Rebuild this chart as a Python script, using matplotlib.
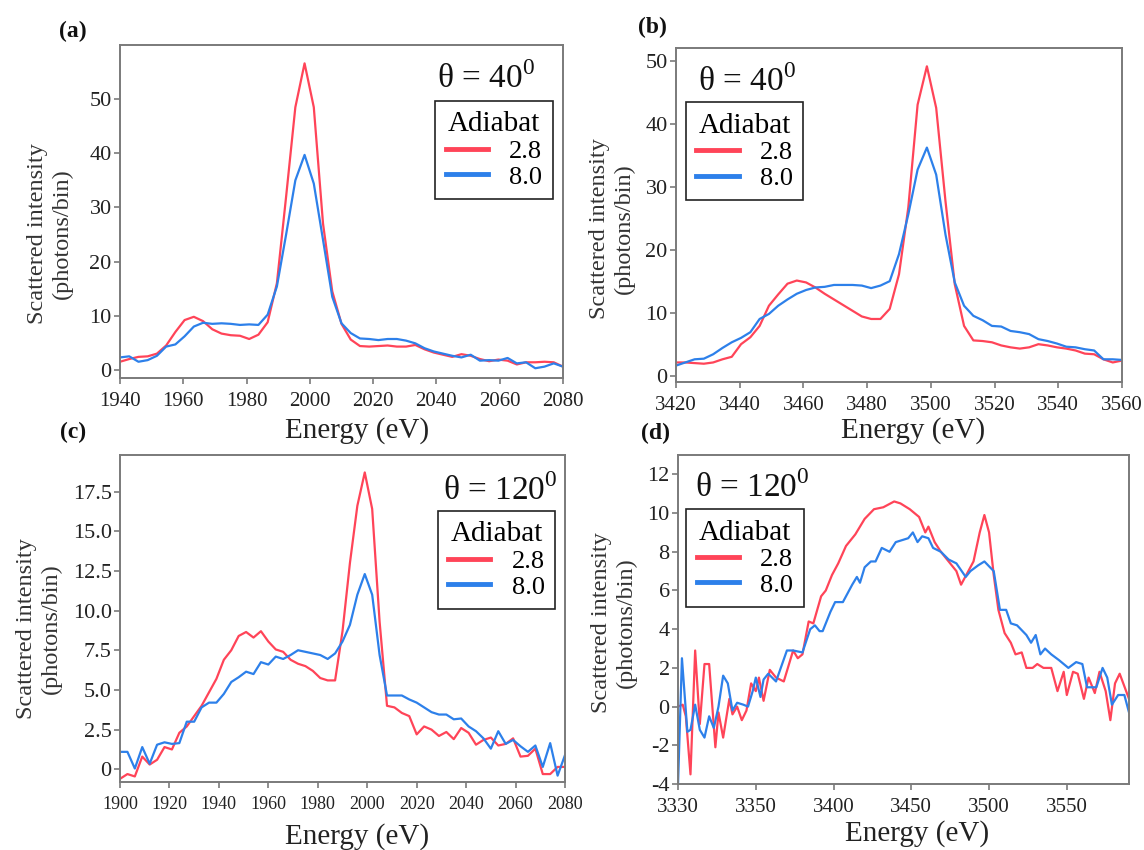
import numpy as np
import matplotlib
matplotlib.use("Agg")
import matplotlib.pyplot as plt

plt.rcParams["font.family"] = ["Liberation Serif", "DejaVu Serif"]
plt.rcParams["mathtext.fontset"] = "custom"
plt.rcParams["mathtext.rm"] = "Liberation Serif"
plt.rcParams["axes.unicode_minus"] = False

RED = "#ff4458"
BLUE = "#2d80ea"
SERIES = ["2.8", "8.0"]

# (a) theta = 40, low energy
e_a = np.linspace(1940, 2080, 49)
a_red = [1.5, 2.0, 2.4, 2.5, 3.0, 4.5, 7.0, 9.2, 9.8, 9.0, 7.5, 6.7, 6.4, 6.3, 5.7, 6.5,
         8.8, 16.0, 32.0, 48.5, 56.6, 48.5, 27.0, 14.5, 8.5, 5.6, 4.4, 4.3, 4.4, 4.5, 4.3,
         4.3, 4.6, 3.8, 3.2, 2.8, 2.4, 2.9, 2.6, 2.0, 1.6, 1.9, 1.7, 1.0, 1.4, 1.4, 1.5,
         1.4, 0.6]
a_blue = [2.3, 2.5, 1.5, 1.8, 2.6, 4.3, 4.7, 6.2, 8.0, 8.7, 8.5, 8.6, 8.5, 8.3, 8.4, 8.3,
          10.2, 15.4, 25.0, 35.0, 39.7, 34.4, 24.0, 13.5, 8.6, 6.8, 5.8, 5.7, 5.5, 5.7, 5.7,
          5.4, 4.9, 4.0, 3.4, 3.0, 2.6, 2.3, 2.8, 1.7, 1.8, 1.7, 2.2, 1.2, 1.4, 0.3, 0.6,
          1.2, 0.6]

# (b) theta = 40, high energy
e_b = np.linspace(3420, 3560, 49)
b_red = [2.1, 2.1, 2.0, 1.9, 2.1, 2.6, 3.0, 5.0, 6.1, 7.9, 11.1, 12.9, 14.6, 15.1, 14.8,
         14.0, 13.0, 12.1, 11.2, 10.3, 9.4, 9.0, 9.0, 10.6, 16.1, 26.7, 43.0, 49.1, 42.5,
         27.7, 14.5, 7.9, 5.6, 5.5, 5.3, 4.8, 4.5, 4.3, 4.5, 5.0, 4.8, 4.5, 4.3, 4.0, 3.5,
         3.4, 2.6, 2.1, 2.4]
b_blue = [1.6, 2.1, 2.6, 2.7, 3.4, 4.4, 5.3, 6.0, 6.9, 9.0, 9.8, 11.1, 12.1, 13.0, 13.6,
          14.0, 14.1, 14.4, 14.4, 14.4, 14.3, 13.9, 14.3, 15.0, 19.3, 25.6, 32.7, 36.2,
          31.9, 22.4, 14.8, 11.1, 9.5, 8.8, 7.9, 7.8, 7.1, 6.9, 6.6, 5.8, 5.5, 5.1, 4.6,
          4.5, 4.2, 4.0, 2.6, 2.6, 2.5]

# (c) theta = 120, low energy
e_c = np.arange(1900, 2081, 3)
c_red = [-0.6, -0.3, -0.45, 0.8, 0.3, 0.6, 1.4, 1.25, 2.3, 2.7, 3.35, 4.0, 4.85, 5.7, 6.9,
         7.5, 8.4, 8.65, 8.3, 8.7, 8.05, 7.55, 7.4, 6.9, 6.65, 6.5, 6.2, 5.75, 5.6, 5.6,
         8.7, 13.0, 16.6, 18.7, 16.4, 9.3, 4.0, 3.9, 3.55, 3.35, 2.2, 2.7, 2.5, 2.1, 2.35,
         1.9, 2.6, 2.3, 1.55, 1.85, 2.0, 1.5, 1.6, 1.95, 0.8, 0.85, 1.3, -0.3, -0.3, 0.15,
         0.15]
c_blue = [1.1, 1.1, 0.05, 1.4, 0.35, 1.55, 1.7, 1.6, 1.65, 3.0, 3.0, 3.9, 4.2, 4.2, 4.75,
          5.5, 5.8, 6.15, 6.0, 6.75, 6.6, 7.1, 6.95, 7.2, 7.5, 7.4, 7.3, 7.2, 6.95, 7.3,
          8.05, 9.1, 11.0, 12.3, 11.0, 7.2, 4.65, 4.65, 4.65, 4.4, 4.2, 3.9, 3.6, 3.45,
          3.45, 3.15, 3.2, 2.7, 2.4, 1.95, 1.3, 2.4, 1.6, 1.85, 1.45, 1.1, 1.5, 0.15, 1.65,
          -0.4, 0.9]

# (d) theta = 120, high energy
e_d_red = [3300, 3303, 3305, 3308, 3311, 3314, 3317, 3320, 3324, 3326, 3329, 3333, 3335,
           3338, 3341, 3344, 3347, 3350, 3352, 3355, 3359, 3363, 3368, 3374, 3377, 3380,
           3384, 3387, 3392, 3395, 3399, 3403, 3408, 3414, 3420, 3426, 3432, 3439, 3443,
           3449, 3455, 3459, 3461, 3465, 3469, 3474, 3479, 3482, 3486, 3490, 3494, 3497,
           3500, 3503, 3506, 3510, 3514, 3517, 3521, 3524, 3528, 3531, 3535, 3540, 3544,
           3548, 3550, 3554, 3557, 3561, 3564, 3568, 3571, 3575, 3578, 3581, 3584, 3590]
d_red = [0.0, 0.1, -0.5, -3.5, 2.9, -0.9, 2.2, 2.2, -2.1, -0.3, -1.6, 0.4, -0.4, 0.0, -0.7,
         -0.2, 1.2, 0.8, 1.5, 0.3, 1.9, 1.5, 1.3, 2.9, 2.5, 2.7, 4.4, 4.3, 5.7, 6.0, 6.8,
         7.4, 8.3, 8.9, 9.7, 10.2, 10.3, 10.6, 10.5, 10.2, 9.8, 9.0, 9.3, 8.5, 8.0, 7.5,
         7.0, 6.3, 6.9, 7.5, 9.0, 9.9, 9.0, 6.8, 5.0, 3.8, 3.3, 2.7, 2.8, 2.0, 2.0, 2.2,
         2.0, 2.0, 0.8, 1.8, 0.6, 1.8, 1.7, 0.4, 1.5, 0.7, 1.8, 0.8, -0.7, 1.2, 1.7, 0.4]
e_d_blue = [3300, 3302.5, 3306, 3308, 3311, 3314, 3317, 3320, 3323, 3326, 3329, 3332, 3335,
            3338, 3342, 3345, 3348, 3350, 3353, 3355, 3358, 3363, 3370, 3374, 3380, 3385,
            3388, 3391, 3393, 3398, 3401, 3406, 3412, 3415, 3417, 3420, 3424, 3427, 3431,
            3436, 3440, 3448, 3451, 3454, 3457, 3461, 3464, 3469, 3474, 3479, 3485, 3488,
            3493, 3497, 3503, 3507, 3511, 3514, 3518, 3524, 3527, 3530, 3533, 3536, 3540,
            3545, 3551, 3556, 3560, 3563, 3567, 3569, 3573, 3576, 3579, 3583, 3587, 3590]
d_blue = [-4.0, 2.5, -1.3, -1.2, 0.1, -1.2, -1.6, -0.5, -1.1, 0.0, 1.6, 1.2, -0.2, 0.2, 0.1,
          0.0, 0.8, 1.5, 0.5, 1.4, 1.7, 1.3, 2.9, 2.9, 2.8, 4.0, 4.2, 3.9, 3.9, 4.9, 5.4,
          5.4, 6.3, 6.7, 6.4, 7.2, 7.5, 7.5, 8.2, 8.0, 8.5, 8.7, 9.0, 8.5, 8.8, 8.7, 8.2,
          8.0, 7.6, 7.4, 6.7, 7.0, 7.3, 7.5, 7.0, 5.0, 5.0, 4.3, 4.2, 3.7, 3.3, 3.7, 2.7,
          3.0, 2.7, 2.4, 2.0, 2.3, 2.2, 1.0, 1.0, 1.0, 2.0, 1.5, 0.1, 0.6, 0.6, -0.3]

xt_a = [1940, 1960, 1980, 2000, 2020, 2040, 2060, 2080]
xt_b = [3420, 3440, 3460, 3480, 3500, 3520, 3540, 3560]
xt_c = [1900, 1920, 1940, 1960, 1980, 2000, 2020, 2040, 2060, 2080]
xt_d = [3300, 3350, 3400, 3450, 3500, 3550]
xt_d_labels = ["3330", "3350", "3400", "3450", "3500", "3550"]
yt_c = [0, 2.5, 5.0, 7.5, 10.0, 12.5, 15.0, 17.5]
yt_c_labels = ["0", "2.5", "5.0", "7.5", "10.0", "12.5", "15.0", "17.5"]


def style_axes(ax, xsize=15, ysize=16):
    for s in ax.spines.values():
        s.set_color("#7a7a7a")
        s.set_linewidth(1.4)
    ax.tick_params(direction="out", length=4, width=1.2, color="#7a7a7a",
                   labelcolor="#222222")
    ax.tick_params(axis="x", labelsize=xsize, pad=6)
    ax.tick_params(axis="y", labelsize=ysize, pad=2)


def panel(fig, rect, x, ys, xlim, ylim, theta, tpos, leg_loc, leg_anchor,
          ylab_pos, xlab_pos, tag, tag_pos, xsize=15):
    ax = fig.add_axes(rect)
    for xx, y, c in zip(x, ys, [RED, BLUE]):
        ax.plot(xx, y, color=c, lw=1.6)
    ax.set_xlim(*xlim)
    ax.set_ylim(*ylim)
    style_axes(ax, xsize=xsize)

    ax.set_ylabel("Scattered intensity\n(photons/bin)", fontsize=17.5,
                  color="#333333", linespacing=1.25)
    ax.yaxis.set_label_coords(*ylab_pos)
    ax.set_xlabel("Energy (eV)", fontsize=21, color="#222222")
    ax.xaxis.set_label_coords(*xlab_pos)

    ax.text(tpos[0], tpos[1], "θ = " + theta + "$^{0}$", transform=ax.transAxes,
            fontsize=24, ha="center", va="center", color="#111111")

    handles = [plt.Line2D([], [], color=c, lw=3.5) for c in [RED, BLUE]]
    leg = ax.legend(handles, SERIES, title="Adiabat", loc=leg_loc,
                    bbox_to_anchor=leg_anchor, fontsize=19, title_fontsize=21,
                    frameon=True, fancybox=False, framealpha=1, edgecolor="#222222",
                    handlelength=1.6, handletextpad=0.8, borderpad=0.4,
                    labelspacing=0.08, borderaxespad=0)
    leg.get_frame().set_linewidth(1.2)
    fig.text(tag_pos[0], tag_pos[1], tag, fontsize=17, fontweight="bold",
             ha="center", va="center", color="#111111")
    return ax


def main():
    fig = plt.figure(figsize=(11.44, 8.5), dpi=100)

    ax_a = panel(fig, [0.1049, 0.5553, 0.3872, 0.3918], [e_a, e_a], [a_red, a_blue],
                 (1940, 2080), (-1.5, 60), "40", (0.826, 0.9), "upper right",
                 (0.977, 0.832), (-0.106, 0.435), (0.535, -0.117), "(a)",
                 (73 / 1144, 1 - 31 / 850))
    ax_a.set_xticks(xt_a)
    ax_a.set_yticks([0, 10, 20, 30, 40, 50])

    ax_b = panel(fig, [0.5909, 0.5506, 0.3899, 0.3929], [e_b, e_b], [b_red, b_blue],
                 (3420, 3560), (-1, 52), "40", (0.16, 0.90), "upper left",
                 (0.022, 0.838), (-0.092, 0.46), (0.531, -0.105), "(b)",
                 (652 / 1144, 1 - 27 / 850))
    ax_b.set_xticks(xt_b)
    ax_b.set_yticks([0, 10, 20, 30, 40, 50])

    ax_c = panel(fig, [0.1049, 0.08, 0.389, 0.3847], [e_c, e_c], [c_red, c_blue],
                 (1900, 2080), (-0.8, 19.8), "120", (0.854, 0.89), "upper right",
                 (0.978, 0.829), (-0.130, 0.468), (0.533, -0.125), "(c)",
                 (73 / 1144, 1 - 432 / 850), xsize=13)
    ax_c.set_xticks(xt_c)
    ax_c.set_yticks(yt_c, yt_c_labels)

    ax_d = panel(fig, [0.5927, 0.0776, 0.3942, 0.3871], [e_d_red, e_d_blue],
                 [d_red, d_blue], (3300, 3590), (-4, 13), "120", (0.165, 0.90),
                 "upper left", (0.018, 0.836), (-0.091, 0.49), (0.53, -0.109), "(d)",
                 (655 / 1144, 1 - 433 / 850))
    ax_d.set_xticks(xt_d, xt_d_labels)
    ax_d.set_yticks(list(range(-4, 13, 2)))

    fig.savefig("out.png", dpi=100)


if __name__ == "__main__":
    main()
